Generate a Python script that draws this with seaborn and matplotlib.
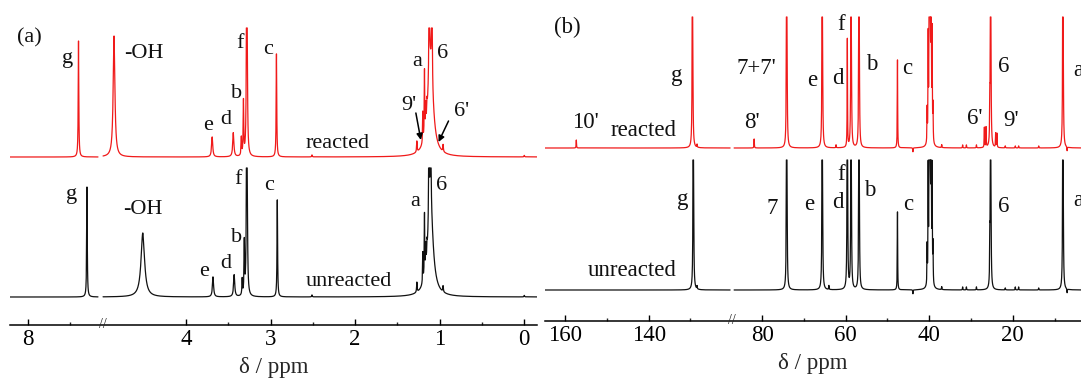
import numpy as np
import pandas as pd
import seaborn as sns
import matplotlib
matplotlib.use("Agg")
import matplotlib.pyplot as plt
from matplotlib.ticker import FixedLocator, FuncFormatter

RED = "#f01a1a"
BLACK = "#111111"

# ---- panel (a): 1H NMR peaks (ppm, height, half width) ----
h_red_pos = [7.40, 4.85, 3.69, 3.44, 3.345, 3.32, 3.28, 2.93, 2.51, 1.27, 1.20, 1.18, 1.165, 1.15,
             1.124, 1.092, 1.11, 0.96, 0.0]
h_red_hgt = [116, 121, 20, 24, 18, 54, 400, 103, 2, 11, 30, 65, 22, 12, 400, 400, 96, 7, 1.5]
h_red_wid = [0.004, 0.012, 0.008, 0.008, 0.004, 0.004, 0.004, 0.004, 0.004, 0.004, 0.003, 0.003, 0.003,
             0.003, 0.002, 0.002, 0.037, 0.004, 0.004]

h_blk_pos = [7.30, 4.51, 3.68, 3.43, 3.335, 3.31, 3.28, 2.92, 2.51, 1.27, 1.20, 1.18, 1.165, 1.15,
             1.127, 1.107, 1.11, 0.96, 0.0]
h_blk_hgt = [110, 64, 20, 22, 16, 52, 400, 97, 2, 10, 30, 62, 22, 12, 400, 400, 92, 6, 1.5]
h_blk_wid = [0.004, 0.025, 0.008, 0.008, 0.004, 0.004, 0.004, 0.004, 0.004, 0.004, 0.003, 0.003, 0.003,
             0.003, 0.002, 0.002, 0.037, 0.004, 0.004]

# ---- panel (b): 13C NMR peaks ----
c_red_pos = [157.3, 129.5, 128.4, 81.9, 74.1, 74.2, 65.6, 62.3, 59.6, 58.7, 56.8, 47.6, 43.9,
             40.5, 40.25, 40.0, 39.8, 39.55, 39.3, 39.1, 37.0, 32.0, 31.1, 28.7,
             26.8, 26.4, 25.3, 25.5, 24.1, 23.8, 21.8, 19.4, 18.6, 13.8, 8.0, 7.0]
c_red_hgt = [8, 500, 3, 9, 500, 20, 500, 3, 108, 500, 500, 88, -4,
             33, 100, 300, 400, 300, 105, 35, 3, 3, 3, 3,
             20, 20, 500, 34, 14, 14, 2, 2, 2, 2, 500, -4]

c_blk_pos = [129.3, 128.4, 74.1, 74.2, 65.6, 64.0, 59.6, 58.7, 56.8, 47.6,
             40.5, 40.25, 40.0, 39.8, 39.55, 39.3, 39.1, 37.0, 32.0, 31.1, 28.7,
             25.3, 25.5, 21.8, 19.4, 18.6, 13.8, 8.0, 43.9, 7.0]
c_blk_hgt = [500, 3, 500, 20, 500, 4, 500, 500, 500, 78,
             38, 110, 300, 400, 300, 110, 38, 3, 3, 3, 3,
             500, 38, 2, 3, 3, 2, 500, -4, -4]

# vertical offsets and clipping caps of the stacked traces
offset_a = {"reacted": 168, "unreacted": 28}
offset_b = {"reacted": 173, "unreacted": 31}
cap_a = 129
cap_b = 131

# labels: (text, ppm, height)
lab_a = [("(a)", 7.98, 287), ("g", 7.53, 267), ("-OH", 4.50, 272),
         ("f", 3.36, 281), ("c", 3.03, 275), ("b", 3.40, 232),
         ("e", 3.74, 200), ("d", 3.53, 206), ("a", 1.27, 263),
         ("6", 0.97, 271), ("9'", 1.36, 220), ("6'", 0.746, 214),
         ("reacted", 2.21, 182),
         ("g", 7.48, 130), ("-OH", 4.51, 116), ("b", 3.40, 87),
         ("e", 3.79, 53), ("d", 3.53, 61), ("f", 3.38, 145),
         ("c", 3.02, 140), ("a", 1.29, 123), ("6", 0.98, 140),
         ("unreacted", 2.07, 44)]
lab_b = [("(b)", 159.4, 294), ("g", 133.2, 245), ("7+7'", 81.4, 253), ("10'", 155.2, 198),
         ("reacted", 141.1, 191), ("8'", 82.4, 199), ("e", 68.0, 241), ("d", 61.8, 243),
         ("f", 61.1, 297), ("b", 53.7, 256), ("c", 45.3, 252), ("6'", 29.0, 202),
         ("9'", 20.4, 200), ("6", 22.3, 254), ("a", 4.4, 251),
         ("g", 131.9, 121), ("7", 77.5, 113), ("e", 68.8, 116), ("d", 61.8, 118),
         ("f", 61.0, 147), ("b", 54.2, 130), ("c", 45.1, 117), ("6", 22.3, 115),
         ("a", 4.4, 121), ("unreacted", 144.0, 51)]


def broken(b1, b2, g):
    shift = b2 - (b1 + g)

    def fwd(x):
        x = np.asarray(x, float)
        return np.where(x <= b1, x, np.where(x >= b2, x - shift, b1 + (x - b1) * g / (b2 - b1)))

    def inv(u):
        u = np.asarray(u, float)
        return np.where(u <= b1, u, np.where(u >= b1 + g, u + shift, b1 + (u - b1) * (b2 - b1) / g))
    return fwd, inv


def trace(segments, pos, hgt, wid, cap, base, name, npts):
    rows = []
    pos = np.asarray(pos, float)
    hgt = np.asarray(hgt, float)
    wid = np.asarray(wid, float)
    for k, (lo, hi) in enumerate(segments):
        inside = pos[(pos > lo) & (pos < hi)]
        x = np.union1d(np.linspace(lo, hi, npts), inside)
        y = (hgt * wid ** 2 / ((x[:, None] - pos) ** 2 + wid ** 2)).sum(axis=1)
        y = np.minimum(y, cap) + base
        rows.append(pd.DataFrame({"ppm": x, "intensity": y, "seg": k, "sample": name}))
    return pd.concat(rows)


sns.set_theme(style="white")
plt.rcParams["font.family"] = ["Liberation Serif", "DejaVu Serif"]

fig = plt.figure(figsize=(10.81, 3.82), dpi=100)
ax_a = fig.add_axes([10 / 1081, 1 - 325 / 382, 527 / 1081, 325 / 382])
ax_b = fig.add_axes([545 / 1081, 1 - 321 / 382, 536 / 1081, 321 / 382])

# ---- (a) ----
seg_a = [(-0.15, 4.98), (7.17, 8.21)]
df_a = pd.concat([
    trace(seg_a, h_red_pos, h_red_hgt, h_red_wid, cap_a, offset_a["reacted"], "reacted", 9000),
    trace(seg_a, h_blk_pos, h_blk_hgt, h_blk_wid, cap_a, offset_a["unreacted"], "unreacted", 9000),
])
sns.lineplot(data=df_a, x="ppm", y="intensity", hue="sample", units="seg", estimator=None,
             sort=False, palette={"reacted": RED, "unreacted": BLACK}, lw=0.9, legend=False, ax=ax_a)
fa, ia = broken(4.98, 7.17, 0.06)
ax_a.set_xscale("function", functions=(fa, ia))
ax_a.set_xlim(8.21, -0.15)
ax_a.set_ylim(0, 325)
ax_a.xaxis.set_major_locator(FixedLocator([8, 4, 3, 2, 1, 0]))
ax_a.xaxis.set_minor_locator(FixedLocator([7.5, 3.5, 2.5, 1.5, 0.5]))
ax_a.text(5.0, 0, "//", transform=ax_a.get_xaxis_transform(), ha="center", va="center", fontsize=10)
for s, x, y in lab_a:
    ax_a.text(x, y, s, ha="center", va="center", fontsize=16, color=BLACK)
arrow = dict(arrowstyle="-|>", color="black", lw=1.1, mutation_scale=9, shrinkA=0, shrinkB=0)
ax_a.annotate("", xy=(1.223, 185), xytext=(1.282, 212), arrowprops=arrow)
ax_a.annotate("", xy=(1.014, 183), xytext=(0.896, 204), arrowprops=arrow)

# ---- (b) ----
seg_b = [(3.68, 86.7), (120.5, 164.8)]
wr = [0.05] * len(c_red_pos)
wb = [0.05] * len(c_blk_pos)
df_b = pd.concat([
    trace(seg_b, c_red_pos, c_red_hgt, wr, cap_b, offset_b["reacted"], "reacted", 6000),
    trace(seg_b, c_blk_pos, c_blk_hgt, wb, cap_b - 1, offset_b["unreacted"], "unreacted", 6000),
])
sns.lineplot(data=df_b, x="ppm", y="intensity", hue="sample", units="seg", estimator=None,
             sort=False, palette={"reacted": RED, "unreacted": BLACK}, lw=0.9, legend=False, ax=ax_b)
fb, ib = broken(86.7, 120.5, 0.96)
ax_b.set_xscale("function", functions=(fb, ib))
ax_b.set_xlim(164.8, 3.68)
ax_b.set_ylim(0, 321)
ax_b.xaxis.set_major_locator(FixedLocator([160, 140, 80, 60, 40, 20]))
ax_b.xaxis.set_minor_locator(FixedLocator([150, 130, 70, 50, 30, 10]))
ax_b.text(103.6, 0, "//", transform=ax_b.get_xaxis_transform(), ha="center", va="center", fontsize=10)
for s, x, y in lab_b:
    ax_b.text(x, y, s, ha="center", va="center", fontsize=16.5, color=BLACK)

for ax in (ax_a, ax_b):
    ax.patch.set_alpha(0)
    for side in ("top", "left", "right"):
        ax.spines[side].set_visible(False)
    ax.spines["bottom"].set_color("black")
    ax.spines["bottom"].set_linewidth(1.1)
    ax.set_yticks([])
    ax.set_ylabel("")
    ax.xaxis.set_major_formatter(FuncFormatter(lambda v, _: f"{v:g}"))
    ax.tick_params(axis="x", which="major", direction="in", length=4, width=1, pad=3,
                   labelsize=16.5, colors="black", bottom=True)
    ax.tick_params(axis="x", which="minor", direction="in", length=2.5, width=1, bottom=True)
    ax.set_xlabel("δ / ppm", fontsize=16.5, labelpad=5)

fig.savefig("out.png", dpi=100)
